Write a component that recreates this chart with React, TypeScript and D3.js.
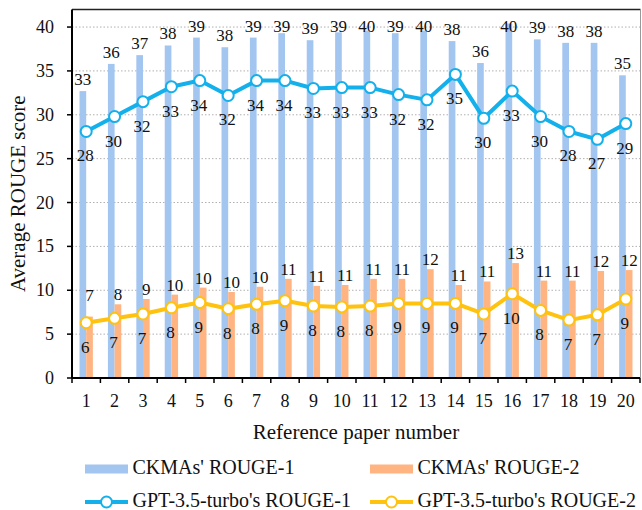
import { useMemo } from "react";
import * as d3 from "d3";

// reference paper numbers
const papers = d3.range(1, 21).map(String);

// bar series (CKMAs)
const ckmaRouge1 = [32.7, 35.8, 36.8, 37.9, 38.8, 37.7, 38.8, 39.3, 38.5, 39.4, 39.6, 39.3, 39.6, 38.4, 35.9, 40.4, 38.6, 38.2, 38.2, 34.5];
const ckmaRouge2 = [7.0, 8.4, 9.0, 9.5, 10.3, 9.8, 10.4, 11.3, 10.5, 10.6, 11.3, 11.3, 12.4, 10.6, 11.0, 13.1, 11.1, 11.1, 12.2, 12.3];

// line series (GPT-3.5-turbo)
const gptRouge1 = [28.1, 29.8, 31.5, 33.2, 33.9, 32.2, 33.9, 33.9, 33.0, 33.1, 33.1, 32.3, 31.7, 34.6, 29.6, 32.7, 29.8, 28.1, 27.2, 29.0];
const gptRouge2 = [6.3, 6.8, 7.3, 8.0, 8.6, 7.9, 8.4, 8.8, 8.2, 8.1, 8.2, 8.5, 8.5, 8.5, 7.3, 9.6, 7.7, 6.6, 7.2, 9.0];

const yTicks = [0, 5, 10, 15, 20, 25, 30, 35, 40];

const legendItems = [
  { label: "CKMAs' ROUGE-1", kind: "bar", color: "#A3C6F0" },
  { label: "CKMAs' ROUGE-2", kind: "bar", color: "#FFB482" },
  { label: "GPT-3.5-turbo's ROUGE-1", kind: "line", color: "#13B0EC" },
  { label: "GPT-3.5-turbo's ROUGE-2", kind: "line", color: "#FFC20E" },
];

const W = 642;
const H = 510;
const FONT = "'Liberation Serif', 'Times New Roman', serif";

export default function App() {
  const margin = { left: 72, right: 2, top: 9.5, bottom: 132 };

  const x = useMemo(
    () => d3.scaleBand<string>().domain(papers).range([margin.left, W - margin.right]).padding(0),
    []
  );
  const y = useMemo(
    () => d3.scaleLinear().domain([0, 42]).range([H - margin.bottom, margin.top]),
    []
  );

  const bw = x.bandwidth() * 0.235;
  const cx = (p: string) => (x(p) as number) + x.bandwidth() / 2;

  const lineGen = d3
    .line<number>()
    .x((_, i) => cx(papers[i]))
    .y((d) => y(d));

  const lines = [
    { values: gptRouge1, color: legendItems[2].color },
    { values: gptRouge2, color: legendItems[3].color },
  ];

  const y0 = y(0);

  return (
    <svg
      width={W}
      height={H}
      style={{ position: "absolute", left: 0, top: 0, background: "#fff" }}
      fontFamily={FONT}
    >
      {/* grid */}
      {yTicks.filter((t) => t > 0).map((t) => (
        <line
          key={t}
          x1={margin.left}
          x2={W - margin.right}
          y1={y(t)}
          y2={y(t)}
          stroke="#B0B0B0"
          strokeWidth={1}
          strokeDasharray="1.5 2"
        />
      ))}

      {/* bars */}
      {papers.map((p, i) => (
        <g key={p}>
          <rect x={cx(p) - bw} y={y(ckmaRouge1[i])} width={bw} height={y0 - y(ckmaRouge1[i])} fill={legendItems[0].color} />
          <rect x={cx(p)} y={y(ckmaRouge2[i])} width={bw} height={y0 - y(ckmaRouge2[i])} fill={legendItems[1].color} />
        </g>
      ))}

      {/* bar labels */}
      {papers.map((p, i) => (
        <g key={"bl" + p} fontSize={17} textAnchor="middle" fill="#111">
          <text x={cx(p) - bw / 2} y={Math.max(y(ckmaRouge1[i]) - 6, 32)}>
            {Math.round(ckmaRouge1[i])}
          </text>
          <text x={cx(p) + bw / 2} y={Math.min(y(ckmaRouge2[i]) - 4, 301)}>
            {Math.round(ckmaRouge2[i])}
          </text>
        </g>
      ))}

      {/* lines */}
      {lines.map((l, li) => (
        <g key={li}>
          <path d={lineGen(l.values) || ""} fill="none" stroke={l.color} strokeWidth={4} strokeLinejoin="round" />
          {l.values.map((v, i) => (
            <circle key={i} cx={cx(papers[i])} cy={y(v)} r={5.5} fill="#fff" stroke={l.color} strokeWidth={2} />
          ))}
          {l.values.map((v, i) => (
            <text key={"t" + i} x={cx(papers[i]) - 1} y={y(v) + 30} fontSize={17} textAnchor="middle" fill="#111">
              {Math.round(v)}
            </text>
          ))}
        </g>
      ))}

      {/* frame */}
      <line x1={margin.left} x2={W - 1.5} y1={margin.top} y2={margin.top} stroke="#222" strokeWidth={1.5} />
      <line x1={W - 1.5} x2={W - 1.5} y1={margin.top} y2={y0} stroke="#999" strokeWidth={1} />

      {/* y axis */}
      <line x1={margin.left} x2={margin.left} y1={margin.top} y2={y0} stroke="#000" strokeWidth={2} />
      {yTicks.map((t) => (
        <g key={"yt" + t}>
          <line x1={margin.left - 5} x2={margin.left} y1={y(t)} y2={y(t)} stroke="#000" strokeWidth={1.5} />
          <text x={54} y={y(t) + 6} fontSize={18} textAnchor="end" fill="#111">
            {t}
          </text>
        </g>
      ))}

      {/* x axis */}
      <line x1={margin.left} x2={W - margin.right} y1={y0} y2={y0} stroke="#000" strokeWidth={2} />
      {[...papers.map((p) => x(p) as number), W - margin.right].map((v, i) => (
        <line key={"xt" + i} x1={v} x2={v} y1={y0} y2={y0 + 5} stroke="#000" strokeWidth={1.5} />
      ))}
      {papers.map((p) => (
        <text key={"xl" + p} x={cx(p)} y={407} fontSize={18} textAnchor="middle" fill="#111">
          {p}
        </text>
      ))}

      {/* axis titles */}
      <text x={(margin.left + W - margin.right) / 2} y={438.5} fontSize={21} textAnchor="middle" fill="#111">
        Reference paper number
      </text>
      <text
        transform={`translate(25, ${(margin.top + y0) / 2}) rotate(-90)`}
        fontSize={21}
        textAnchor="middle"
        fill="#111"
      >
        Average ROUGE score
      </text>

      {/* legend */}
      {legendItems.map((item, i) => {
        const lx = i % 2 === 0 ? 85 : 370;
        const ly = i < 2 ? 469 : 502;
        return (
          <g key={item.label}>
            {item.kind === "bar" ? (
              <rect x={lx} y={ly - 4.5} width={43} height={9} fill={item.color} />
            ) : (
              <g>
                <line x1={lx} x2={lx + 43} y1={ly} y2={ly} stroke={item.color} strokeWidth={4} />
                <circle cx={lx + 21.5} cy={ly} r={5.5} fill="#fff" stroke={item.color} strokeWidth={2} />
              </g>
            )}
            <text x={lx + 47.5} y={ly + 5} fontSize={20} fill="#111">
              {item.label}
            </text>
          </g>
        );
      })}
    </svg>
  );
}
